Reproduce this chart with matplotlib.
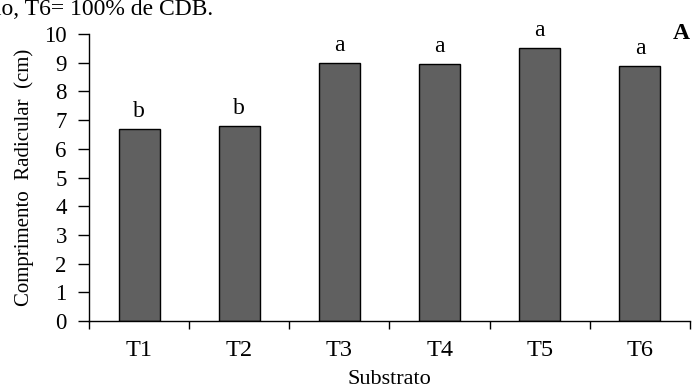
import matplotlib.pyplot as plt
import numpy as np

# data
tratamentos = ['T1', 'T2', 'T3', 'T4', 'T5', 'T6']
comprimento = [6.7, 6.8, 9.0, 8.95, 9.5, 8.9]
letras = ['b', 'b', 'a', 'a', 'a', 'a']

plt.rcParams['font.family'] = ['Liberation Serif', 'DejaVu Serif']

fig = plt.figure(figsize=(6.92, 3.91), dpi=100)
ax = fig.add_axes([89/692, 70/391, 601/692, 287/391])

x = np.arange(len(tratamentos))
ax.bar(x, comprimento, width=0.41, color='#606060', edgecolor='black', linewidth=1.0)

for xi, v, l in zip(x, comprimento, letras):
    ax.text(xi, v + 0.42, l, ha='center', va='baseline', fontsize=17)

ax.set_xlim(-0.5, 5.5)
ax.set_ylim(0, 10)
ax.set_yticks(range(0, 11))
ax.set_xticks(x)
ax.set_xticklabels(tratamentos)
ax.set_xticks(np.arange(-0.5, 6, 1), minor=True)
ax.tick_params(axis='x', which='major', length=0, pad=14, labelsize=17.5)
ax.tick_params(axis='x', which='minor', length=6, width=1, direction='out')
ax.tick_params(axis='y', length=8, width=1, direction='out', labelsize=16.5, pad=8)

for s in ['top', 'right']:
    ax.spines[s].set_visible(False)
for s in ['left', 'bottom']:
    ax.spines[s].set_linewidth(1)

ax.set_ylabel('Comprimento  Radicular  (cm)', fontsize=15, labelpad=7)
ax.set_xlabel('Substrato', fontsize=16, labelpad=6)

fig.text(681/692, 1 - 39/391, 'A', fontsize=17, fontweight='bold', ha='center', va='baseline')
fig.text(-9/692, 1 - 15/391, 'ão, T6= 100% de CDB.', fontsize=17, ha='left', va='baseline')

fig.savefig('out.png', dpi=100)
